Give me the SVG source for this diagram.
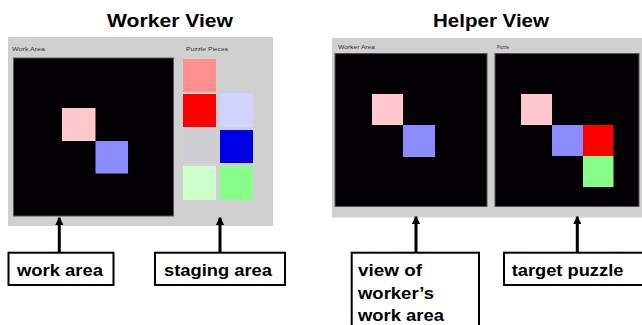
<svg xmlns="http://www.w3.org/2000/svg" width="642" height="325" viewBox="0 0 642 325">
  <defs>
    <style>
      .title { font-family: "Liberation Sans", Arial, sans-serif; font-weight: bold; font-size: 18.5px; fill: #000; }
      .label { font-family: "Liberation Sans", Arial, sans-serif; font-weight: bold; font-size: 17px; fill: #000; }
      .tiny { font-family: "Liberation Sans", Arial, sans-serif; font-size: 5.5px; fill: #333; }
      .panel { fill: #d0d0d0; }
      .screen { fill: #020003; stroke: #555; stroke-width: 1; }
      .box { fill: #fff; stroke: #000; stroke-width: 2; }
      .conn { stroke: #000; stroke-width: 3; fill: none; }
    </style>
    <marker id="arrow" viewBox="0 0 10 10" refX="9" refY="5" markerWidth="2.8" markerHeight="2.8" orient="auto" markerUnits="strokeWidth">
      <path d="M0,0 L10,5 L0,10 z" fill="#000"/>
    </marker>
  </defs>
  <rect width="642" height="325" fill="#fff"/>

  <g id="worker-view">
    <text class="title" x="170" y="26.7" text-anchor="middle" textLength="126" lengthAdjust="spacingAndGlyphs">Worker View</text>
    <rect class="panel" x="8" y="37" width="265" height="189"/>
    <text class="tiny" x="12" y="51" textLength="33" lengthAdjust="spacingAndGlyphs">Work Area</text>
    <text class="tiny" x="186" y="51" textLength="42" lengthAdjust="spacingAndGlyphs">Puzzle Pieces</text>
    <g id="work-area-screen">
      <rect class="screen" x="13.5" y="58" width="160" height="158"/>
      <rect x="62" y="108" width="33.5" height="33" fill="#ffc8cc"/>
      <rect x="95.5" y="141" width="32.5" height="32.5" fill="#8c8cff"/>
    </g>
    <g id="staging-pieces">
      <rect x="183" y="59" width="33" height="33" fill="#ff9090"/>
      <rect x="183" y="94" width="33" height="33" fill="#ff0000"/>
      <rect x="220" y="93" width="33" height="34" fill="#d2d2ff"/>
      <rect x="183" y="130" width="33" height="33" fill="#cdcdd2"/>
      <rect x="220" y="130" width="33" height="33" fill="#0000e6"/>
      <rect x="183" y="166" width="33" height="34" fill="#ccffcc"/>
      <rect x="220" y="166" width="33" height="34" fill="#88ff88"/>
    </g>
  </g>

  <g id="helper-view">
    <text class="title" x="491" y="26.7" text-anchor="middle" textLength="116" lengthAdjust="spacingAndGlyphs">Helper View</text>
    <rect class="panel" x="332" y="38" width="310" height="179.5"/>
    <text class="tiny" x="338" y="49" textLength="37" lengthAdjust="spacingAndGlyphs">Worker Area</text>
    <text class="tiny" x="497" y="49" textLength="12" lengthAdjust="spacingAndGlyphs">Puzzle</text>
    <g id="worker-area-view">
      <rect class="screen" x="335" y="53.5" width="152" height="153"/>
      <rect x="372" y="94" width="31" height="31" fill="#ffc8cc"/>
      <rect x="403" y="125" width="32" height="32" fill="#8c8cff"/>
    </g>
    <g id="puzzle-view">
      <rect class="screen" x="495" y="53.5" width="144" height="153"/>
      <rect x="521" y="94" width="31" height="31" fill="#ffc8cc"/>
      <rect x="552" y="125" width="31" height="31" fill="#8c8cff"/>
      <rect x="583" y="125" width="30.5" height="31" fill="#ff0000"/>
      <rect x="583" y="156" width="30.5" height="31" fill="#88ff88"/>
    </g>
  </g>

  <g id="connectors">
    <line class="conn" x1="59.3" y1="252.7" x2="59.3" y2="217.7" marker-end="url(#arrow)"/>
    <line class="conn" x1="220" y1="252.7" x2="220" y2="217.7" marker-end="url(#arrow)"/>
    <line class="conn" x1="416" y1="252.7" x2="416" y2="216.7" marker-end="url(#arrow)"/>
    <line class="conn" x1="577.3" y1="252.7" x2="577.3" y2="216.7" marker-end="url(#arrow)"/>
  </g>

  <g id="label-work-area">
    <rect class="box" x="8.5" y="252.7" width="105" height="32.3"/>
    <text class="label" x="17" y="276" textLength="86" lengthAdjust="spacingAndGlyphs">work area</text>
  </g>
  <g id="label-staging-area">
    <rect class="box" x="155" y="252.7" width="130" height="32.3"/>
    <text class="label" x="164" y="276" textLength="108" lengthAdjust="spacingAndGlyphs">staging area</text>
  </g>
  <g id="label-view-of-workers-work-area">
    <rect class="box" x="351.7" y="252.7" width="127.3" height="80"/>
    <text class="label" x="358" y="276" textLength="64" lengthAdjust="spacingAndGlyphs">view of</text>
    <text class="label" x="358" y="299.3" textLength="76" lengthAdjust="spacingAndGlyphs">worker’s</text>
    <text class="label" x="358" y="320.5" textLength="86" lengthAdjust="spacingAndGlyphs">work area</text>
  </g>
  <g id="label-target-puzzle">
    <rect class="box" x="504" y="252.7" width="145" height="32.3"/>
    <text class="label" x="511.7" y="276" textLength="111.7" lengthAdjust="spacingAndGlyphs">target puzzle</text>
  </g>
</svg>
